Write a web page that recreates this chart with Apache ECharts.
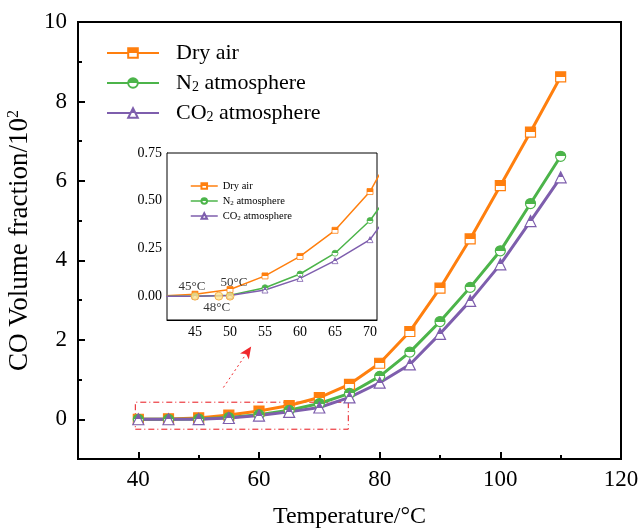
<!DOCTYPE html>
<html>
<head>
<meta charset="utf-8">
<title>CO volume fraction</title>
<script src="https://cdn.jsdelivr.net/npm/echarts@6.0.0/dist/echarts.min.js"></script>
<style>
  html, body { margin: 0; padding: 0; background: #fff; }
  #chart { width: 642px; height: 532px; }
</style>
</head>
<body>
<div id="chart"></div>
<script>
// data (CO volume fraction, x10^2)
var temps  = [40, 45, 50, 55, 60, 65, 70, 75, 80, 85, 90, 95, 100, 105, 110];
var dryAir = [0, 0.01, 0.035, 0.106, 0.208, 0.345, 0.548, 0.88, 1.41, 2.21, 3.30, 4.54, 5.88, 7.23, 8.62];
var n2Atm  = [0, 0, 0.005, 0.044, 0.116, 0.225, 0.396, 0.65, 1.08, 1.69, 2.46, 3.32, 4.24, 5.43, 6.62];
var co2Atm = [0, 0, 0.003, 0.032, 0.093, 0.186, 0.296, 0.55, 0.92, 1.38, 2.15, 2.98, 3.90, 4.99, 6.09];

var seriesNames = ['Dry air', 'N2 atmosphere', 'CO2 atmosphere'];

var xLabels = [40, 60, 80, 100, 120];
var yLabels = [0, 2, 4, 6, 8, 10];
var xMajorTicks = [40, 60, 80, 100];
var xMinorTicks = [50, 70, 90, 110];
var yMajorTicks = [0, 2, 4, 6, 8];
var yMinorTicks = [1, 3, 5, 7, 9];
var insetXTicks = [45, 50, 55, 60, 65, 70];
var insetYTicks = [0, 0.25, 0.5, 0.75];

// onset temperatures marked in the inset
var onsetPoints = [[45, 0, '45°C'], [48.4, 0, '48°C'], [50, 0, '50°C']];

// dashed box around the zoomed region and the arrow to the inset
var zoomBox = [[39.5, -0.25], [74.8, 0.43]];
var zoomArrow = [[54.1, 0.8], [58.7, 1.83]];

var FONT = 'Liberation Serif';
var colors = ['#FF7F0E', '#4CB44A', '#7E5EAD'];
var symbols = ['rect', 'circle', 'triangle'];

var chart;

function halfFill(c) {
    return new echarts.graphic.LinearGradient(0, 0, 0, 1, [
        {offset: 0, color: c}, {offset: 0.5, color: c},
        {offset: 0.5, color: '#fff'}, {offset: 1, color: '#fff'}
    ]);
}

function pairs(vals) {
    return temps.map(function (t, i) { return [t, vals[i]]; });
}

function legendName(name) {
    if (name === 'N2 atmosphere') return 'N{sub|2} atmosphere';
    if (name === 'CO2 atmosphere') return 'CO{sub|2} atmosphere';
    return name;
}

function makeSeries(idx, vals, inset) {
    var c = colors[idx];
    return {
        name: seriesNames[idx],
        type: 'line',
        xAxisIndex: inset ? 1 : 0,
        yAxisIndex: inset ? 1 : 0,
        data: pairs(vals),
        symbol: symbols[idx],
        symbolSize: inset ? 6 : (idx === 2 ? 11 : 10),
        lineStyle: {color: c, width: inset ? 1.5 : 3},
        itemStyle: {color: halfFill(c), borderColor: c, borderWidth: inset ? 0.8 : 1.2},
        emphasis: {disabled: true},
        animation: false,
        z: inset ? 12 : 3
    };
}

// a labelled axis with its major ticks
function valueAxis(gridIndex, pos, min, max, labels, ticks, tickLen, width, fontSize, margin, extra) {
    var ax = {
        type: 'value', gridIndex: gridIndex, position: pos, min: min, max: max,
        axisLine: {show: true, onZero: false, lineStyle: {color: '#000', width: width}},
        axisTick: {show: true, inside: true, length: tickLen, customValues: ticks,
            lineStyle: {color: '#000', width: width}},
        axisLabel: {show: true, customValues: labels, fontSize: fontSize, margin: margin,
            color: '#000', fontFamily: FONT},
        splitLine: {show: false}
    };
    return Object.assign(ax, extra || {});
}

// an unlabelled axis on an overlay grid, only for ticks
function tickOnlyAxis(gridIndex, pos, min, max, ticks, len) {
    return {
        type: 'value', gridIndex: gridIndex, position: pos, min: min, max: max,
        axisLine: {show: false, onZero: false},
        axisTick: {show: true, inside: true, length: len, customValues: ticks,
            lineStyle: {color: '#000', width: 2}},
        axisLabel: {show: false},
        splitLine: {show: false}
    };
}

function initChart() {
    chart = echarts.init(document.getElementById('chart'));

    var mainRect = {left: 78, right: 21, top: 22, bottom: 73, outerBoundsMode: 'none', containLabel: false};

    var option = {
        backgroundColor: '#fff',
        animation: false,
        grid: [
            Object.assign({show: true, borderColor: '#000', borderWidth: 2}, mainRect),
            {left: 167, top: 153, width: 210, height: 167, show: true, backgroundColor: '#fff',
             borderColor: '#000', borderWidth: 1, outerBoundsMode: 'none', containLabel: false, z: 10},
            Object.assign({show: false}, mainRect)
        ],
        legend: [
            {
                data: seriesNames, orient: 'vertical', left: 101, top: 37,
                itemWidth: 52, itemHeight: 12, itemGap: 8,
                selectedMode: false,
                formatter: legendName,
                textStyle: {fontFamily: FONT, fontSize: 22, color: '#000', lineHeight: 22,
                    padding: [0, 0, 0, 12],
                    rich: {sub: {fontSize: 14, fontFamily: FONT, verticalAlign: 'bottom', lineHeight: 7}}}
            },
            {
                data: seriesNames, orient: 'vertical', left: 185, top: 175,
                itemWidth: 27, itemHeight: 7, itemGap: 3, z: 14,
                selectedMode: false,
                formatter: legendName,
                lineStyle: {width: 1.5},
                textStyle: {fontFamily: FONT, fontSize: 10.5, color: '#000', lineHeight: 12,
                    rich: {sub: {fontSize: 7, fontFamily: FONT, verticalAlign: 'bottom', lineHeight: 4}}}
            }
        ],
        xAxis: [
            // label margin kept larger than the tick length so ticks are not dropped
            valueAxis(0, 'bottom', 30, 120, xLabels, xMajorTicks, 7, 2, 23, 9, {
                name: 'Temperature/°C', nameLocation: 'middle', nameGap: 46,
                nameTextStyle: {fontFamily: FONT, fontSize: 24, color: '#000'}
            }),
            valueAxis(1, 'bottom', 41, 71, insetXTicks, insetXTicks, 3, 1, 14, 5),
            tickOnlyAxis(2, 'bottom', 30, 120, xMinorTicks, 4)
        ],
        yAxis: [
            valueAxis(0, 'left', -1, 10, yLabels, yMajorTicks, 7, 2, 23, 11, {
                name: 'CO Volume fraction/10{sup|2}', nameLocation: 'middle', nameGap: 44,
                nameTextStyle: {fontFamily: FONT, fontSize: 27, color: '#000',
                    rich: {sup: {fontFamily: FONT, fontSize: 16, verticalAlign: 'top', lineHeight: 16}}}
            }),
            valueAxis(1, 'left', -0.125, 0.75, insetYTicks, insetYTicks, 3, 1, 14, 5, {}),
            tickOnlyAxis(2, 'left', -1, 10, yMinorTicks, 4)
        ],
        series: [
            makeSeries(0, dryAir, false),
            makeSeries(1, n2Atm, false),
            makeSeries(2, co2Atm, false),
            {
                name: 'zoom region', type: 'line', xAxisIndex: 0, yAxisIndex: 0, data: [],
                markArea: {
                    silent: true,
                    itemStyle: {color: 'rgba(0,0,0,0)', borderColor: '#E8141A', borderWidth: 1,
                        borderType: [6, 3, 1, 3]},
                    data: [[{coord: zoomBox[0]}, {coord: zoomBox[1]}]]
                },
                markLine: {
                    silent: true,
                    symbol: ['none', 'arrow'], symbolSize: [8, 12],
                    lineStyle: {color: '#F0282C', width: 1, type: [2, 3]},
                    itemStyle: {color: '#F0282C'},
                    label: {show: false},
                    data: [[{coord: zoomArrow[0]}, {coord: zoomArrow[1]}]]
                }
            },
            makeSeries(0, dryAir, true),
            makeSeries(1, n2Atm, true),
            makeSeries(2, co2Atm, true),
            {
                name: 'onset', type: 'scatter', xAxisIndex: 1, yAxisIndex: 1,
                symbol: 'circle', symbolSize: 8, z: 13,
                itemStyle: {color: '#FFE38C', borderColor: '#F3A33A', borderWidth: 1},
                emphasis: {disabled: true},
                data: onsetPoints.map(function (p, i) {
                    var lab = {show: true, formatter: p[2], fontFamily: FONT, fontSize: 13, color: '#000'};
                    if (i === 0) { lab.position = 'top'; lab.offset = [-3, 6]; }
                    if (i === 1) { lab.position = 'bottom'; lab.offset = [-2, -5]; }
                    if (i === 2) { lab.position = 'top'; lab.offset = [4, 2]; }
                    return {value: [p[0], p[1]], label: lab};
                })
            }
        ]
    };
    option.yAxis[1].axisLabel.formatter = function (v) { return v.toFixed(2); };

    chart.setOption(option);
}

initChart();
</script>
</body>
</html>
